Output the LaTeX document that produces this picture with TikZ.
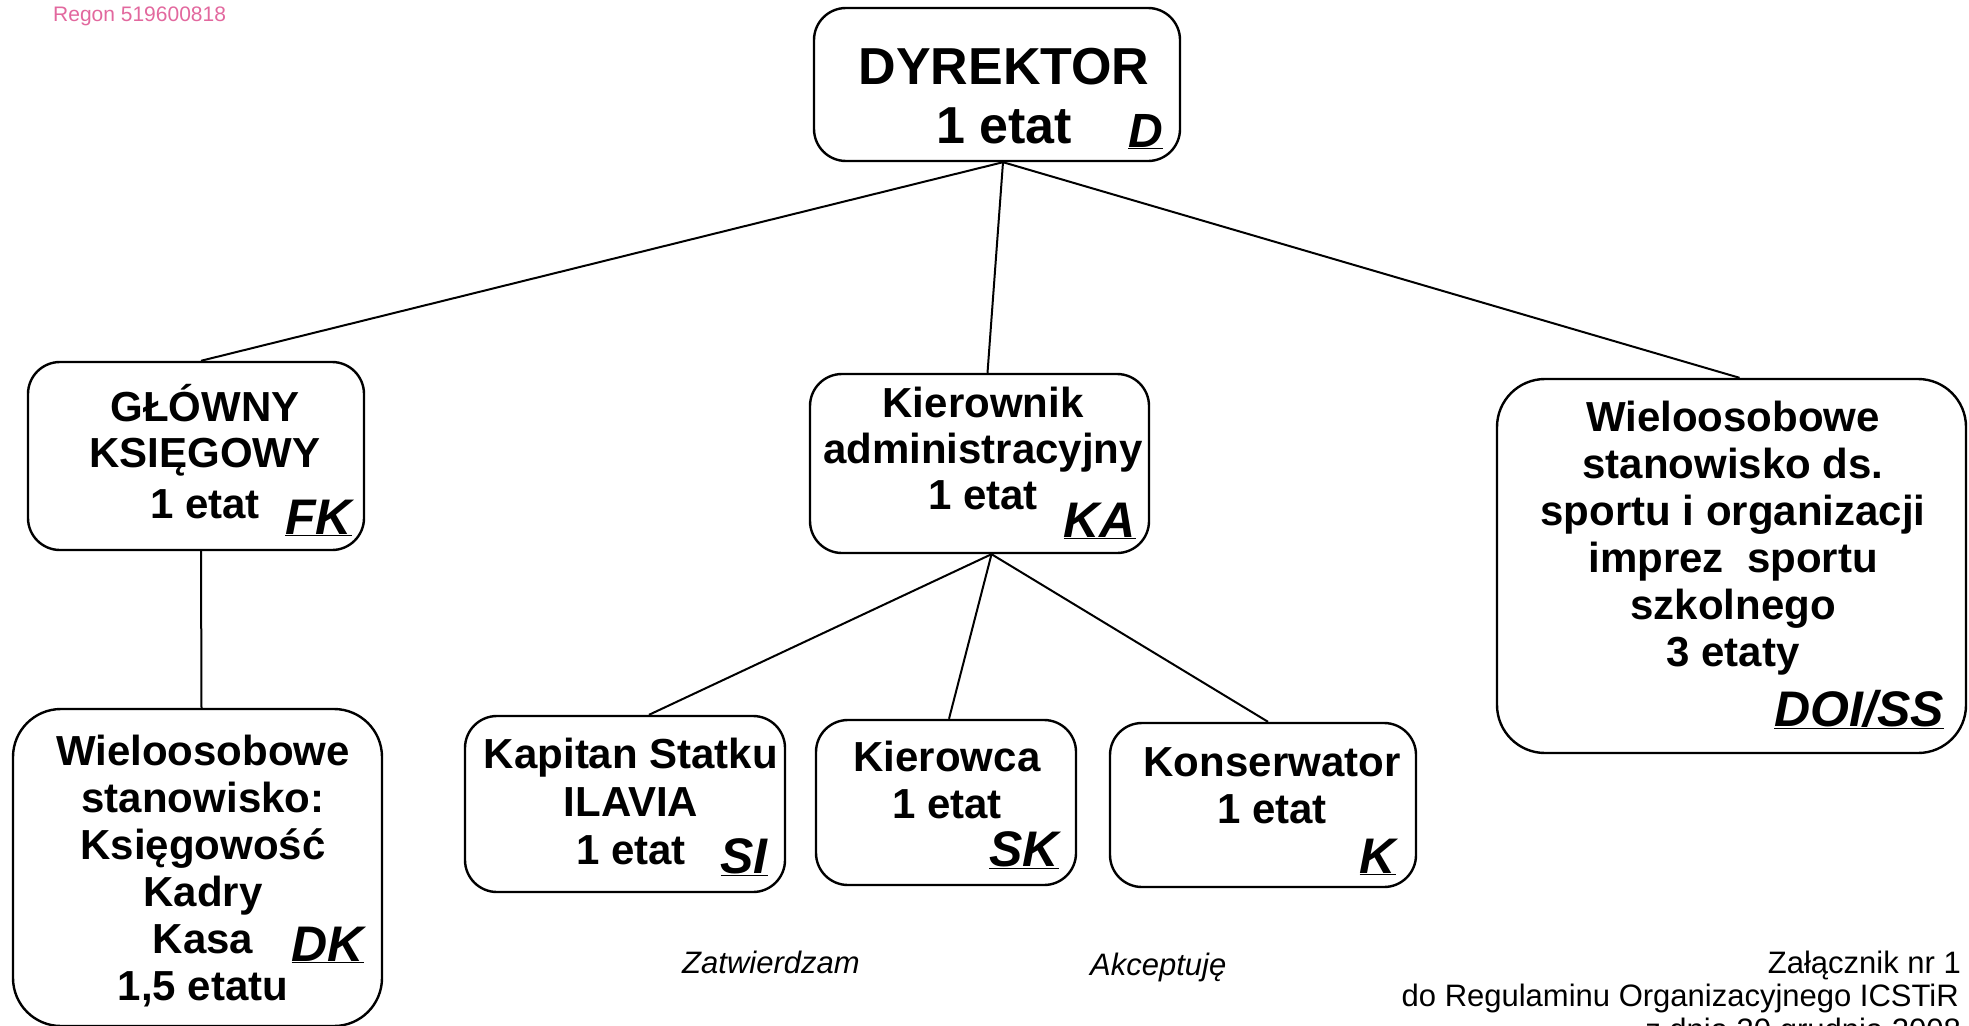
\documentclass[tikz,border=0pt]{standalone}
\usepackage{fontspec}
\setmainfont{Liberation Sans}
\usepackage{xcolor}
\definecolor{regon}{RGB}{226,104,158}
\tikzset{box/.style = {draw, line width=2.4pt, rounded corners=32pt, inner sep=0pt}}
\tikzset{big box/.style = {box, rounded corners=48pt}}
\tikzset{conn/.style = {line width=2pt}}
\tikzset{txt/.style = {align=center, inner sep=0pt, font=\fontsize{42}{46}\selectfont\bfseries}}
\tikzset{code/.style = {anchor=base east, inner sep=0pt, font=\fontsize{50}{50}\selectfont\bfseries\itshape}}
\tikzset{note/.style = {inner sep=0pt, font=\fontsize{31}{33}\selectfont}}

\begin{document}
\begin{tikzpicture}[x=1pt, y=-1pt]
			\useasboundingbox (0, 0) rectangle (1969, 1025);
			\node [box, minimum width=366, minimum height=153] (dyr) at (997, 84.5) {};
			\node [box, minimum width=336, minimum height=188] (gk) at (196, 456) {};
			\node [box, minimum width=339, minimum height=179] (ka) at (979.5, 463.5) {};
			\node [big box, minimum width=469, minimum height=374] (ss) at (1731.5, 566) {};
			\node [big box, minimum width=369, minimum height=317] (dk) at (197.5, 867.5) {};
			\node [box, minimum width=320, minimum height=176] (si) at (625, 804) {};
			\node [box, minimum width=260, minimum height=165] (sk) at (946, 802.5) {};
			\node [box, minimum width=306, minimum height=164] (kon) at (1263, 805) {};
			\node [txt, font=\fontsize{52}{59}\selectfont\bfseries] (dyr-t) at (1004, 96) {DYREKTOR\\1 etat};
			\node [txt] (gk-t) at (205, 451.5) {GŁÓWNY\\KSIĘGOWY\\[5pt]1 etat};
			\node [txt] (ka-t) at (983, 448) {Kierownik\\administracyjny\\1 etat};
			\node [txt, font=\fontsize{42}{47}\selectfont\bfseries] (ss-t) at (1733, 538) {Wieloosobowe\\stanowisko ds.\\sportu i organizacji\\imprez~~sportu\\szkolnego\\3 etaty};
			\node [txt, font=\fontsize{42}{47}\selectfont\bfseries] (dk-t) at (203, 871) {Wieloosobowe\\stanowisko:\\Księgowość\\Kadry\\Kasa\\1,5 etatu};
			\node [txt, font=\fontsize{42}{48}\selectfont\bfseries] (si-t) at (631, 801) {Kapitan Statku\\ILAVIA\\1 etat};
			\node [txt, font=\fontsize{42}{47}\selectfont\bfseries] (sk-t) at (947, 780) {Kierowca\\1 etat};
			\node [txt, font=\fontsize{42}{47}\selectfont\bfseries] (kon-t) at (1272, 786) {Konserwator\\1 etat};
			\node [code, font=\fontsize{48}{48}\selectfont\bfseries\itshape] (dyr-c) at (1163, 147) {\underline{D}};
			\node [code] (gk-c) at (352, 534) {\underline{FK}};
			\node [code] (ka-c) at (1136, 537) {\underline{KA}};
			\node [code] (ss-c) at (1944, 726) {\underline{DOI/SS}};
			\node [code] (dk-c) at (364, 961) {\underline{DK}};
			\node [code] (si-c) at (768, 873) {\underline{SI}};
			\node [code] (sk-c) at (1059, 866) {\underline{SK}};
			\node [code] (kon-c) at (1396, 873) {\underline{K}};
			\node [note, anchor=base west, text=regon, font=\fontsize{21}{21}\selectfont] (regon) at (53, 22) {Regon 519600818};
			\node [note, anchor=base west, font=\fontsize{31}{33}\selectfont\itshape] (zatw) at (682, 973) {Zatwierdzam};
			\node [note, anchor=base west, font=\fontsize{31}{33}\selectfont\itshape] (akc) at (1090, 975) {Akceptuję};
			\node [note, anchor=base east] (zal1) at (1961, 973) {Załącznik nr 1};
			\node [note, anchor=base east] (zal2) at (1959, 1006) {do Regulaminu Organizacyjnego ICSTiR};
			\node [note, anchor=base east] (zal3) at (1961, 1040) {z dnia 30 grudnia 2008};
			\draw [conn] ([xshift=6]dyr.south) -- ([xshift=5]gk.north);
			\draw [conn] ([xshift=6]dyr.south) -- ([xshift=8]ka.north);
			\draw [conn] ([xshift=6]dyr.south) -- ([xshift=8]ss.north);
			\draw [conn] ([xshift=5]gk.south) -- ([xshift=4]dk.north);
			\draw [conn] ([xshift=12]ka.south) -- ([xshift=24]si.north);
			\draw [conn] ([xshift=12]ka.south) -- ([xshift=3]sk.north);
			\draw [conn] ([xshift=12]ka.south) -- ([xshift=5]kon.north);
		\end{tikzpicture}
\end{document}
